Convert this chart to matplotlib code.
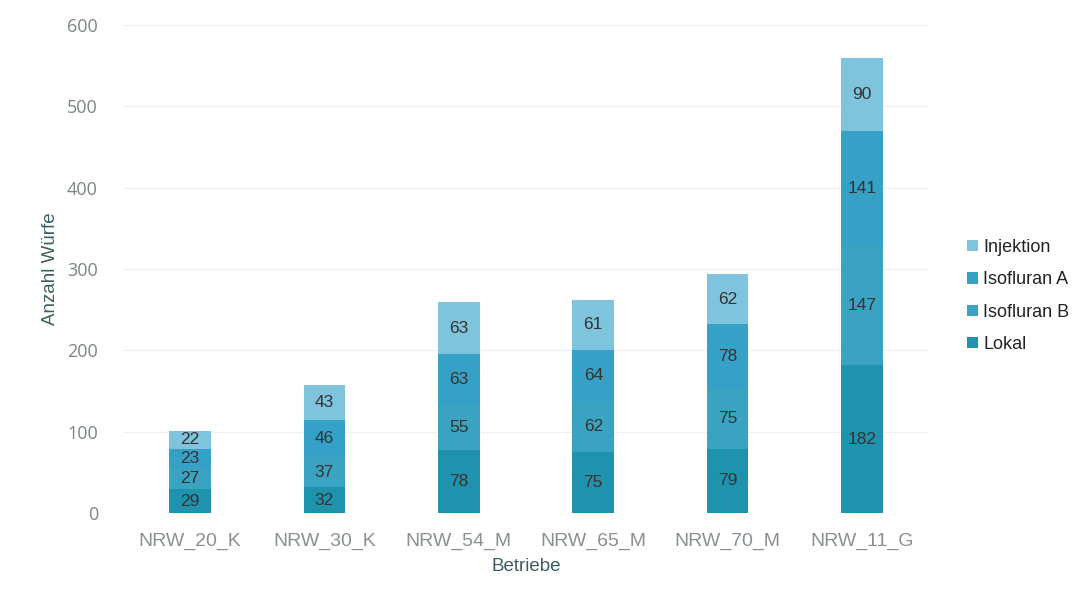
import matplotlib.pyplot as plt
import numpy as np

betriebe = ['NRW_20_K', 'NRW_30_K', 'NRW_54_M', 'NRW_65_M', 'NRW_70_M', 'NRW_11_G']
lokal = [29, 32, 78, 75, 79, 182]
isofluran_b = [27, 37, 55, 62, 75, 147]
isofluran_a = [23, 46, 63, 64, 78, 141]
injektion = [22, 43, 63, 61, 62, 90]

serien = [('Lokal', lokal, '#1f92ae'),
          ('Isofluran B', isofluran_b, '#3aa3c2'),
          ('Isofluran A', isofluran_a, '#35a1c6'),
          ('Injektion', injektion, '#7dc4dc')]

fig = plt.figure(figsize=(10.78, 5.98), dpi=100)
ax = fig.add_axes([0.114, 0.142, 0.748, 0.816])

x = np.arange(len(betriebe))
unten = np.zeros(len(betriebe))
for name, werte, farbe in serien:
    balken = ax.bar(x, werte, 0.31, bottom=unten, color=farbe, label=name, zorder=2)
    ax.bar_label(balken, labels=[str(v) for v in werte], label_type='center',
                 color='#333333', fontsize=12.5, family='Liberation Sans')
    unten += np.array(werte)

ax.set_xlim(-0.5, len(betriebe) - 0.5)
ax.set_ylim(0, 600)
ax.set_yticks(range(0, 601, 100))
ax.set_xticks(x)
ax.set_xticklabels(betriebe, fontsize=14, color='#8a9090', family='Liberation Sans')
ax.tick_params(axis='y', labelsize=13, labelcolor='#7d8585', length=0, pad=18)
ax.tick_params(axis='x', length=0, pad=14)
for lbl in ax.get_yticklabels():
    lbl.set_family('Open Sans')
ax.grid(axis='y', color='#f0f0f0', linewidth=0.8, zorder=0)
for s in ax.spines.values():
    s.set_visible(False)

ax.set_ylabel('Anzahl Würfe', fontsize=13.5, color='#3d5f5f', family='Liberation Sans', labelpad=6)
ax.set_xlabel('Betriebe', fontsize=13.5, color='#3d5f5f', family='Liberation Sans', labelpad=6)

handles, labels = ax.get_legend_handles_labels()
fig.legend(handles[::-1], labels[::-1], loc='center left', bbox_to_anchor=(0.882, 0.505),
           frameon=False, handlelength=0.6, handleheight=0.6, handletextpad=0.3,
           labelspacing=0.85, prop={'family': 'Liberation Sans', 'size': 13},
           labelcolor='#222222')

fig.savefig('out.png', dpi=100)
